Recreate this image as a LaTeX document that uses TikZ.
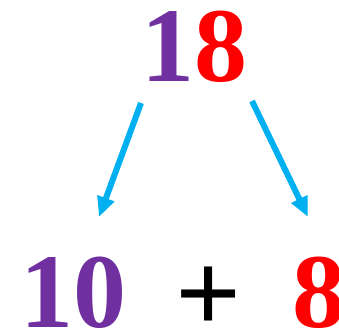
\documentclass[tikz,border=0pt]{standalone}
\usepackage{fontspec}
\setmainfont{Liberation Serif}
\usetikzlibrary{arrows.meta}
\definecolor{numpurple}{RGB}{112,48,160}
\definecolor{numred}{RGB}{255,0,0}
\definecolor{arrowcyan}{RGB}{0,176,240}
\tikzset{
  digit/.style={inner sep=0pt, anchor=base, text depth=0pt, font=\fontsize{106}{106}\selectfont\bfseries},
  plus/.style={inner sep=0pt, anchor=center, font=\fontsize{116}{116}\selectfont\bfseries},
  split/.style={draw=arrowcyan, line width=6pt, -{Triangle[width=17pt,length=20pt]}}
}
\begin{document}
\begin{tikzpicture}[x=1pt,y=1pt]
\useasboundingbox (0,0) rectangle (339,331);
\node[digit] (top) at (194,249) {\textcolor{numpurple}{1}\textcolor{numred}{8}};
\node[digit, text=numpurple] (ten) at (73,3) {10};
\node[plus] (pl) at (208.5,31) {\raisebox{-0.25em}{+}};
\node[digit, text=numred] (eight) at (319,3) {8};
\coordinate (s1) at (141,228);
\coordinate (e1) at (99,114);
\coordinate (s2) at (252,230);
\coordinate (e2) at (308,114);
\draw[split] (s1) -- (e1);
\draw[split] (s2) -- (e2);
\end{tikzpicture}
\end{document}
